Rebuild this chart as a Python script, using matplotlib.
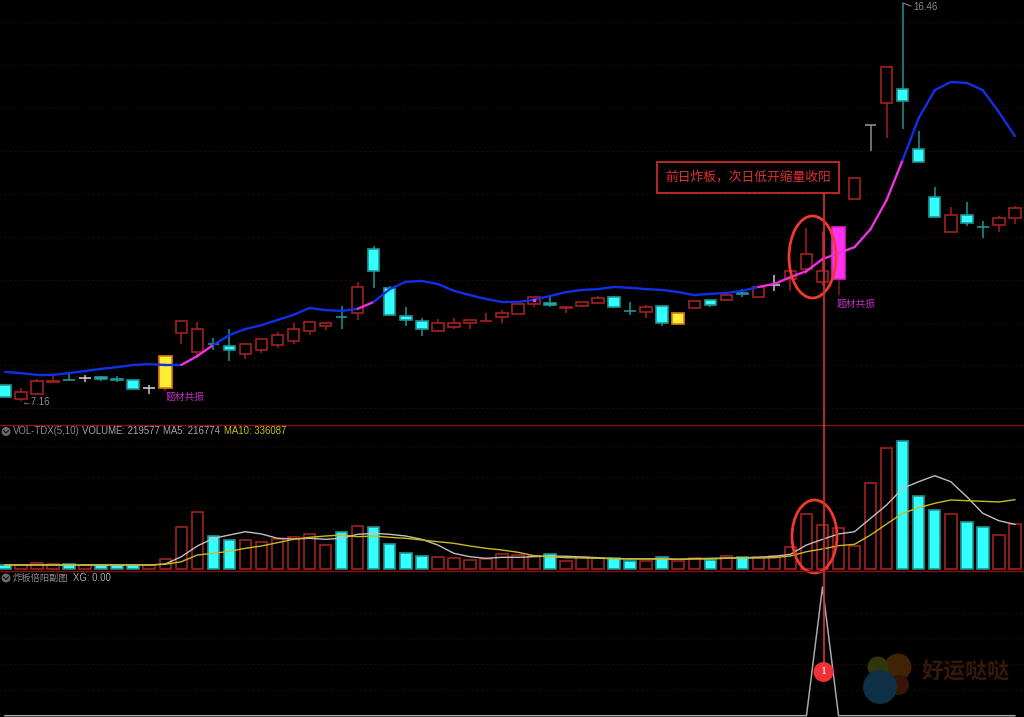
import numpy as np
import matplotlib
matplotlib.use('Agg')
import matplotlib.pyplot as plt
from matplotlib.patches import Ellipse, Circle, Rectangle

plt.rcParams['font.family'] = ['Liberation Sans', 'Noto Sans CJK SC', 'DejaVu Sans']

# 价格 K线
opens = [7.54, 7.22, 7.33, 7.62, 7.67, 7.71, 7.72, 7.68, 7.66, 7.47, 7.47, 8.76, 8.31, 8.51, 8.45, 8.27,
         8.36, 8.48, 8.57, 8.80, 8.92, 9.14, 9.22, 10.72, 9.81, 9.15, 9.04, 8.80, 8.90, 8.99, 9.03, 9.13,
         9.20, 9.43, 9.46, 9.35, 9.39, 9.46, 9.60, 9.28, 9.25, 9.39, 8.97, 9.34, 9.53, 9.53, 9.68, 9.60,
         9.88, 10.02, 10.25, 9.95, 10.02, 11.88, 13.61, 14.12, 14.45, 13.05, 11.93, 11.11, 11.51, 11.24, 11.28, 11.44]
closes = [7.26, 7.38, 7.64, 7.64, 7.65, 7.71, 7.68, 7.66, 7.45, 7.47, 8.22, 9.04, 8.85, 8.49, 8.36, 8.50,
          8.62, 8.71, 8.85, 9.01, 8.99, 9.12, 9.83, 10.20, 9.18, 9.06, 8.85, 8.99, 8.99, 9.06, 9.04, 9.22,
          9.43, 9.60, 9.41, 9.36, 9.48, 9.57, 9.36, 9.26, 9.36, 8.99, 9.22, 9.50, 9.41, 9.64, 9.66, 9.83,
          9.88, 10.20, 10.60, 10.20, 11.23, 12.37, 13.61, 14.96, 14.17, 12.75, 11.46, 11.51, 11.32, 11.22, 11.44, 11.67]
highs = [7.54, 7.47, 7.68, 7.78, 7.85, 7.78, 7.75, 7.75, 7.68, 7.54, 8.22, 9.04, 9.01, 8.64, 8.85, 8.52,
         8.62, 8.78, 8.99, 9.04, 8.99, 9.39, 9.95, 10.79, 9.85, 9.36, 9.11, 9.08, 9.11, 9.06, 9.22, 9.29,
         9.43, 9.60, 9.60, 9.36, 9.48, 9.62, 9.62, 9.48, 9.41, 9.39, 9.22, 9.50, 9.53, 9.69, 9.78, 9.85,
         10.11, 10.20, 11.21, 11.14, 11.23, 12.37, 13.61, 14.96, 16.46, 13.47, 12.16, 11.69, 11.81, 11.37, 11.49, 11.72]
lows = [7.26, 7.16, 7.33, 7.62, 7.65, 7.61, 7.64, 7.61, 7.43, 7.33, 7.40, 8.50, 8.17, 8.36, 8.10, 8.15,
        8.29, 8.41, 8.50, 8.71, 8.83, 8.85, 9.06, 9.81, 9.18, 8.92, 8.69, 8.78, 8.85, 8.85, 9.01, 8.99,
        9.20, 9.36, 9.36, 9.22, 9.36, 9.46, 9.34, 9.18, 9.11, 8.92, 8.97, 9.34, 9.36, 9.50, 9.60, 9.60,
        9.74, 9.74, 10.13, 9.88, 9.64, 11.88, 13.00, 13.30, 13.51, 12.75, 11.46, 11.11, 11.25, 10.97, 11.11, 11.30]

# 主图均线
ma_line = [7.85, 7.82, 7.78, 7.78, 7.82, 7.87, 7.92, 7.96, 8.01, 8.03, 8.01, 8.01, 8.22, 8.48, 8.71, 8.85,
           8.94, 9.06, 9.18, 9.34, 9.29, 9.27, 9.32, 9.48, 9.78, 9.95, 9.97, 9.90, 9.74, 9.64, 9.55, 9.48,
           9.48, 9.53, 9.62, 9.71, 9.76, 9.78, 9.83, 9.81, 9.78, 9.76, 9.71, 9.64, 9.67, 9.69, 9.74, 9.83,
           9.90, 10.06, 10.20, 10.48, 10.62, 10.76, 11.18, 11.86, 12.79, 13.77, 14.42, 14.61, 14.59, 14.42, 13.91, 13.35]
ma_pink = [11, 12, 22, 47, 48, 49, 50, 51, 52, 53, 54, 55]
ma_pink_dot = 33
price_grid = [7, 8, 9, 10, 11, 12, 13, 14, 15, 16]

# 成交量
volume = [20900, 20900, 29100, 22800, 22800, 17900, 20900, 20900, 17900, 17900, 47000, 202200, 275000, 160000, 140600, 139200,
          132400, 144000, 155200, 168300, 116400, 179400, 210000, 205100, 121200, 79000, 64500, 59700, 51900, 42200, 48500, 71300,
          66400, 64500, 71300, 37300, 56700, 53300, 51900, 40300, 40300, 59700, 38800, 51900, 43600, 63000, 58200, 58200,
          64500, 105200, 266700, 212000, 197400, 113000, 417100, 585400, 622300, 355500, 287600, 266700, 229400, 202200, 166400, 219577]
ma5 = [19400, 19400, 19400, 19400, 19400, 19400, 19400, 19400, 19400, 19400, 24300, 59700, 111600, 148900, 164900, 180900,
       169800, 148900, 145500, 148900, 144000, 148900, 168300, 173100, 168300, 160000, 144000, 116400, 76100, 59700, 51900, 56700,
       56700, 59700, 63000, 61600, 58200, 54800, 50000, 48500, 48500, 48500, 47000, 50000, 51900, 53300, 54800, 56700,
       61600, 71300, 116400, 144000, 169800, 180900, 245900, 310400, 391400, 423400, 452500, 423400, 350700, 270100, 234300, 216774]
ma10 = [19400, 19400, 19400, 19400, 19400, 19400, 19400, 19400, 19400, 19400, 22800, 35400, 67900, 76100, 85800, 100400,
        111600, 127600, 144000, 153700, 160000, 164900, 156700, 160000, 153700, 148900, 140700, 132400, 124600, 111600, 100400, 92200,
        81000, 64500, 59700, 54800, 53300, 51900, 50000, 50000, 50000, 50000, 47000, 48500, 48500, 51900, 53300, 53300,
        54800, 63000, 83900, 97000, 113000, 119800, 164900, 218300, 270100, 297300, 318600, 334700, 331300, 328300, 325000, 336087]
vol_grid = [155000, 300000, 446000, 597000]

# 副图
xg = [0] * 51 + [1] + [0] * 12
xg_grid = [0.2, 0.4, 0.6, 0.8]

# 题材共振的两根
yellow_days = [10, 42]
pink_days = [52]

n = len(opens)
x = np.arange(n)
RED = '#a32020'
CYAN = '#33ffff'
TEAL = '#1f9595'
GRID = '#5e0808'
GREY = '#8c8c8c'


def pane(top, bottom):
    ax = fig.add_axes([0, 1 - bottom / 717, 1, (bottom - top) / 717], facecolor='black')
    ax.set_xlim(-0.312, 63.57)
    for s in ax.spines.values():
        s.set_visible(False)
    ax.tick_params(left=False, bottom=False, labelleft=False, labelbottom=False)
    ax.grid(True, axis='y', color=GRID, lw=0.7, ls=(0, (1, 4)))
    ax.set_axisbelow(True)
    return ax


fig = plt.figure(figsize=(10.24, 7.17), dpi=100, facecolor='black')

# 主图
ax1 = pane(0, 425)
ax1.set_ylim(6.61, 16.524)
ax1.set_yticks(price_grid)
for i in x:
    o, c, h, l = opens[i], closes[i], highs[i], lows[i]
    if i in yellow_days:
        edge, fill, wick, w = '#e07a10', '#ffee33', RED, 0.78
    elif i in pink_days:
        edge, fill, wick, w = '#e020d0', '#ff33ee', '#7a1f1f', 0.78
    elif c < o:
        edge, fill, wick, w = TEAL, CYAN, TEAL, 0.72
    elif c == o:
        edge, fill, wick, w = '#c8c8c8', 'black', '#c8c8c8', 0.72
    else:
        edge, fill, wick, w = RED, 'black', RED, 0.72
    if i == 54:
        edge, wick = GREY, GREY
    ax1.vlines(i, l, h, color=wick, lw=2.2 if i == 51 else 1.1, zorder=2)
    ax1.bar(i, abs(c - o), w, bottom=min(o, c), facecolor=fill, edgecolor=edge, lw=1.2, zorder=3)
for i in range(n - 1):
    col = '#f030e0' if i in ma_pink else '#1030e8'
    ax1.plot(x[i:i + 2], ma_line[i:i + 2], color=col, lw=1.7, zorder=4, solid_capstyle='round')
ax1.plot([ma_pink_dot], [ma_line[ma_pink_dot]], 's', color='#f030e0', ms=2, zorder=5)

# 成交量
ax2 = pane(425, 571)
ax2.set_ylim(-9700, 698400)
ax2.set_yticks(vol_grid)
vol_fill = [CYAN if closes[i] < opens[i] else 'black' for i in x]
vol_edge = [TEAL if closes[i] < opens[i] else RED for i in x]
ax2.bar(x, volume, 0.72, facecolor=vol_fill, edgecolor=vol_edge, lw=1.2, zorder=2)
ax2.plot(x, ma5, color='#c0c0c0', lw=1.0, zorder=3)
ax2.plot(x, ma10, color='#c8bc20', lw=1.0, zorder=4)

# 副图
ax3 = pane(571, 717)
ax3.set_ylim(-0.0101, 1.124)
ax3.set_yticks(xg_grid)
ax3.plot(x, xg, color='#a8a8a8', lw=1.1)

# 标注层，用像素坐标
top = fig.add_axes([0, 0, 1, 1], facecolor='none')
top.set_xlim(0, 1024)
top.set_ylim(717, 0)
top.axis('off')

top.axhline(425, color='#8a1010', lw=1.0)
top.axhline(571, color='#8a1010', lw=1.0)

top.add_patch(Rectangle((657, 162), 182, 31, fill=False, ec='#b82828', lw=1.4))
top.text(748, 177.5, '前日炸板，次日低开缩量收阳', color='#e03030', fontsize=9.2, ha='center', va='center')
top.plot([823.8, 823.8], [193, 664], color='#c83030', lw=1.3)
top.add_patch(Ellipse((812.5, 257), 47, 82, fill=False, ec='#f03a30', lw=2.0))
top.add_patch(Ellipse((814.5, 536.5), 45, 73, fill=False, ec='#f03a30', lw=2.0))
top.add_patch(Circle((823.5, 672), 10, fc='#f03038', ec='none', zorder=6))
top.text(823.5, 672, '1', color='white', fontsize=7, family='DejaVu Serif', ha='center', va='center', zorder=7)

top.text(166, 397, '题材共振', color='#c030c0', fontsize=7, va='center')
top.text(837, 304, '题材共振', color='#c030c0', fontsize=7, va='center')
top.text(21, 402, '←7.16', color=GREY, fontsize=7, va='center')
top.plot([903, 911], [3, 6], color=GREY, lw=0.7)
top.text(913, 7, '16.46', color=GREY, fontsize=7, va='center')

# 指标标题
for yc in (431.5, 578):
    top.add_patch(Circle((6, yc), 4.5, fc='#6a6a6a', ec='none'))
    top.plot([3.5, 6, 8.5], [yc - 1, yc + 1.5, yc - 1], color='#101010', lw=0.8)
top.text(13, 431.5, 'VOL-TDX(5,10)', color=GREY, fontsize=6.9, va='center')
top.text(82, 431.5, 'VOLUME: 219577', color='#a8a8a8', fontsize=6.9, va='center')
top.text(163, 431.5, 'MA5: 216774', color='#a8a8a8', fontsize=6.9, va='center')
top.text(224, 431.5, 'MA10: 336087', color='#c8c020', fontsize=6.9, va='center')
top.text(13, 578, '炸板倍阳副图', color=GREY, fontsize=6.7, va='center')
top.text(73, 578, 'XG: 0.00', color='#a8a8a8', fontsize=6.9, va='center')

# 水印
top.add_patch(Circle((898, 667), 13.5, fc='#3f2305', ec='none', zorder=1))
top.add_patch(Circle((899, 685), 10, fc='#341506', ec='none', zorder=1))
top.add_patch(Circle((878, 667), 10.5, fc='#30350c', ec='none', zorder=1))
top.add_patch(Circle((880, 687), 17, fc='#0f2f45', ec='none', zorder=1))
top.text(966, 673, '好运哒哒', color='#351808', fontsize=15.8, fontweight='bold', ha='center', va='center', zorder=1)

fig.savefig('out.png', dpi=100, facecolor='black')
